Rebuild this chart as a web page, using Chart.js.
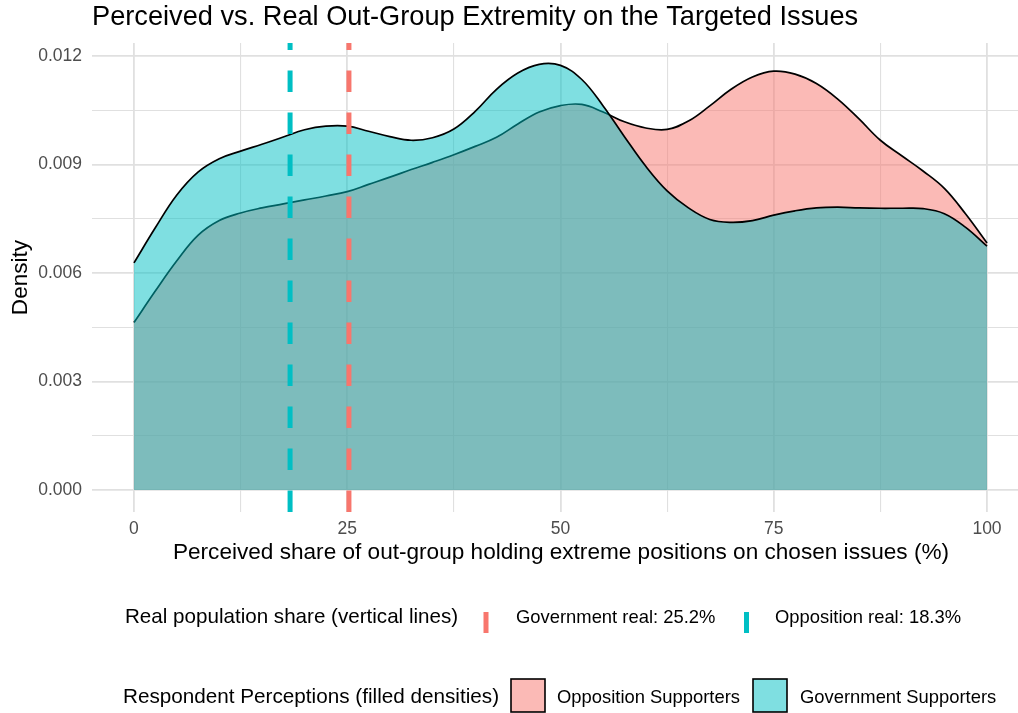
<!DOCTYPE html>
<html>
<head>
<meta charset="utf-8">
<title>Perceived vs. Real Out-Group Extremity</title>
<script src="https://cdn.jsdelivr.net/npm/chart.js@4.4.1/dist/chart.umd.min.js"></script>
<style>
  html, body { margin: 0; padding: 0; background: #fff; overflow: hidden; }
  canvas { display: block; }
</style>
</head>
<body>
<!-- the panel runs a little past the right edge of the window, as in the original -->
<canvas id="myChart" width="1030" height="713"></canvas>
<script>
var xs = [0, 2.5, 5, 7.5, 10, 12.5, 15, 17.5, 20, 22.5, 25, 27.5, 30, 32.5, 35, 37.5, 40,
          42.5, 45, 47.5, 50, 52.5, 55, 57.5, 60, 62.5, 65, 67.5, 70, 72.5, 75, 77.5, 80,
          82.5, 85, 87.5, 90, 92.5, 95, 97.5, 100];

// density values (drawn first: opposition, then government on top)
var oppDensity = [0.00463, 0.00550, 0.00633, 0.00704, 0.00745, 0.00766, 0.00780, 0.00791, 0.00802, 0.00813,
                  0.00825, 0.00845, 0.00865, 0.00886, 0.00906, 0.00927, 0.00950, 0.00975, 0.01012, 0.01045,
                  0.01063, 0.01066, 0.01045, 0.01018, 0.01001, 0.00997, 0.01020, 0.01062, 0.01108, 0.01142,
                  0.01158, 0.01150, 0.01124, 0.01081, 0.01026, 0.00967, 0.00924, 0.00882, 0.00834, 0.00763,
                  0.00683];
var govDensity = [0.00628, 0.00725, 0.00815, 0.00879, 0.00916, 0.00937, 0.00956, 0.00976, 0.00996, 0.01006,
                  0.01006, 0.00992, 0.00977, 0.00967, 0.00974, 0.00998, 0.01047, 0.01108, 0.01153, 0.01177,
                  0.01174, 0.01135, 0.01062, 0.00977, 0.00895, 0.00827, 0.00780, 0.00748, 0.00740, 0.00745,
                  0.00760, 0.00772, 0.00780, 0.00782, 0.00780, 0.00779, 0.00779, 0.00778, 0.00764, 0.00726,
                  0.00674];

// real population shares (vertical lines)
var realLabels = ["Government real: 25.2%", "Opposition real: 18.3%"];
var realValues = [25.2, 18.3];

var groupLabels = ["Opposition Supporters", "Government Supporters"];

// axis ticks
var xTicks = [0, 12.5, 25, 37.5, 50, 62.5, 75, 87.5, 100];
var xTickLabels = ["0", "", "25", "", "50", "", "75", "", "100"];
var yTicks = [0, 0.0015, 0.003, 0.0045, 0.006, 0.0075, 0.009, 0.0105, 0.012];
var yTickLabels = ["0.000", "", "0.003", "", "0.006", "", "0.009", "", "0.012"];

var xMin = -4.92, xMax = 105.04;
var yMin = -0.000608, yMax = 0.012358;

var pink = "#F8766D";
var teal = "#00BFC4";
var pinkFill = "rgba(248,118,109,0.5)";
var tealFill = "rgba(0,191,196,0.5)";

var FONT = '"Liberation Sans", Arial, Helvetica, sans-serif';

function toPoints(xv, yv) {
    var pts = [];
    for (var i = 0; i < xv.length; i++) pts.push({x: xv[i], y: yv[i]});
    return pts;
}

function vline(x) {
    return [{x: x, y: yMin}, {x: x, y: yMax}];
}

// ggplot-like two row legend under the plot
var legendPlugin = {
    id: "ggLegend",
    afterDraw: function (chart) {
        var ctx = chart.ctx;
        ctx.save();
        ctx.textBaseline = "alphabetic";
        ctx.textAlign = "left";
        ctx.fillStyle = "#000";

        // row 1: reference lines
        ctx.font = "20.6px " + FONT;
        ctx.fillText("Real population share (vertical lines)", 125, 623);
        ctx.fillStyle = pink;
        ctx.fillRect(483.5, 612, 5, 21);
        ctx.fillStyle = teal;
        ctx.fillRect(744, 612, 5, 21);
        ctx.fillStyle = "#000";
        ctx.font = "18.4px " + FONT;
        ctx.fillText(realLabels[0], 516, 623);
        ctx.fillText(realLabels[1], 775, 623);

        // row 2: filled densities
        ctx.font = "20.7px " + FONT;
        ctx.fillText("Respondent Perceptions (filled densities)", 123, 703);
        ctx.lineWidth = 1.6;
        ctx.strokeStyle = "#000";
        ctx.fillStyle = pinkFill;
        ctx.fillRect(511, 679, 34, 33);
        ctx.strokeRect(511, 679, 34, 33);
        ctx.fillStyle = tealFill;
        ctx.fillRect(753, 679, 34, 33);
        ctx.strokeRect(753, 679, 34, 33);
        ctx.fillStyle = "#000";
        ctx.font = "18.4px " + FONT;
        ctx.fillText(groupLabels[0], 557, 703);
        ctx.fillText(groupLabels[1], 800, 703);
        ctx.restore();
    }
};

var ctx = document.getElementById("myChart");

var myChart = new Chart(ctx, {
    type: "line",
    data: {
        datasets: [
            {
                label: groupLabels[0],
                data: toPoints(xs, oppDensity),
                borderColor: "#000",
                borderWidth: 1.7,
                backgroundColor: pinkFill,
                fill: "origin",
                pointRadius: 0,
                tension: 0.4,
                order: 3
            },
            {
                label: groupLabels[1],
                data: toPoints(xs, govDensity),
                borderColor: "#000",
                borderWidth: 1.7,
                backgroundColor: tealFill,
                fill: "origin",
                pointRadius: 0,
                tension: 0.4,
                order: 2
            },
            {
                label: realLabels[0],
                data: vline(realValues[0]),
                borderColor: pink,
                borderWidth: 5,
                borderDash: [21.5, 20.5],
                pointRadius: 0,
                fill: false,
                order: 1
            },
            {
                label: realLabels[1],
                data: vline(realValues[1]),
                borderColor: teal,
                borderWidth: 5,
                borderDash: [21.5, 20.5],
                pointRadius: 0,
                fill: false,
                order: 0
            }
        ]
    },
    options: {
        responsive: false,
        animation: false,
        events: [],
        layout: { padding: { left: 0, right: 0, top: 0, bottom: 145 } },
        plugins: {
            legend: { display: false },
            tooltip: { enabled: false },
            title: {
                display: true,
                text: "Perceived vs. Real Out-Group Extremity on the Targeted Issues",
                align: "start",
                fullSize: false,
                color: "#000",
                font: { family: FONT, size: 27.2, weight: "normal" },
                padding: { top: 1.5, bottom: 8.9 }
            }
        },
        scales: {
            x: {
                type: "linear",
                min: xMin,
                max: xMax,
                afterBuildTicks: function (scale) {
                    scale.ticks = xTicks.map(function (v) { return {value: v}; });
                },
                afterFit: function (scale) { scale.height = 56; },
                ticks: {
                    autoSkip: false,
                    maxRotation: 0,
                    padding: 6.5,
                    color: "#4D4D4D",
                    font: { family: FONT, size: 17.5 },
                    callback: function (v, i) { return xTickLabels[i]; }
                },
                grid: {
                    drawTicks: false,
                    color: "#E0E0E0",
                    lineWidth: function (c) { return c.index % 2 === 0 ? 1.8 : 1.1; }
                },
                border: { display: false },
                title: {
                    display: true,
                    text: "Perceived share of out-group holding extreme positions on chosen issues (%)",
                    color: "#000",
                    font: { family: FONT, size: 22.6 },
                    padding: { top: 0, bottom: 1.5 }
                }
            },
            y: {
                type: "linear",
                min: yMin,
                max: yMax,
                afterBuildTicks: function (scale) {
                    scale.ticks = yTicks.map(function (v) { return {value: v}; });
                },
                afterFit: function (scale) { scale.width = 92; },
                ticks: {
                    autoSkip: false,
                    padding: 10,
                    color: "#4D4D4D",
                    font: { family: FONT, size: 17.5 },
                    callback: function (v, i) { return yTickLabels[i]; }
                },
                grid: {
                    drawTicks: false,
                    color: "#E0E0E0",
                    lineWidth: function (c) { return c.index % 2 === 0 ? 1.8 : 1.1; }
                },
                border: { display: false },
                title: {
                    display: true,
                    text: "Density",
                    color: "#000",
                    font: { family: FONT, size: 22.6 },
                    padding: { top: 7, bottom: 0 }
                }
            }
        }
    },
    plugins: [legendPlugin]
});
</script>
</body>
</html>
